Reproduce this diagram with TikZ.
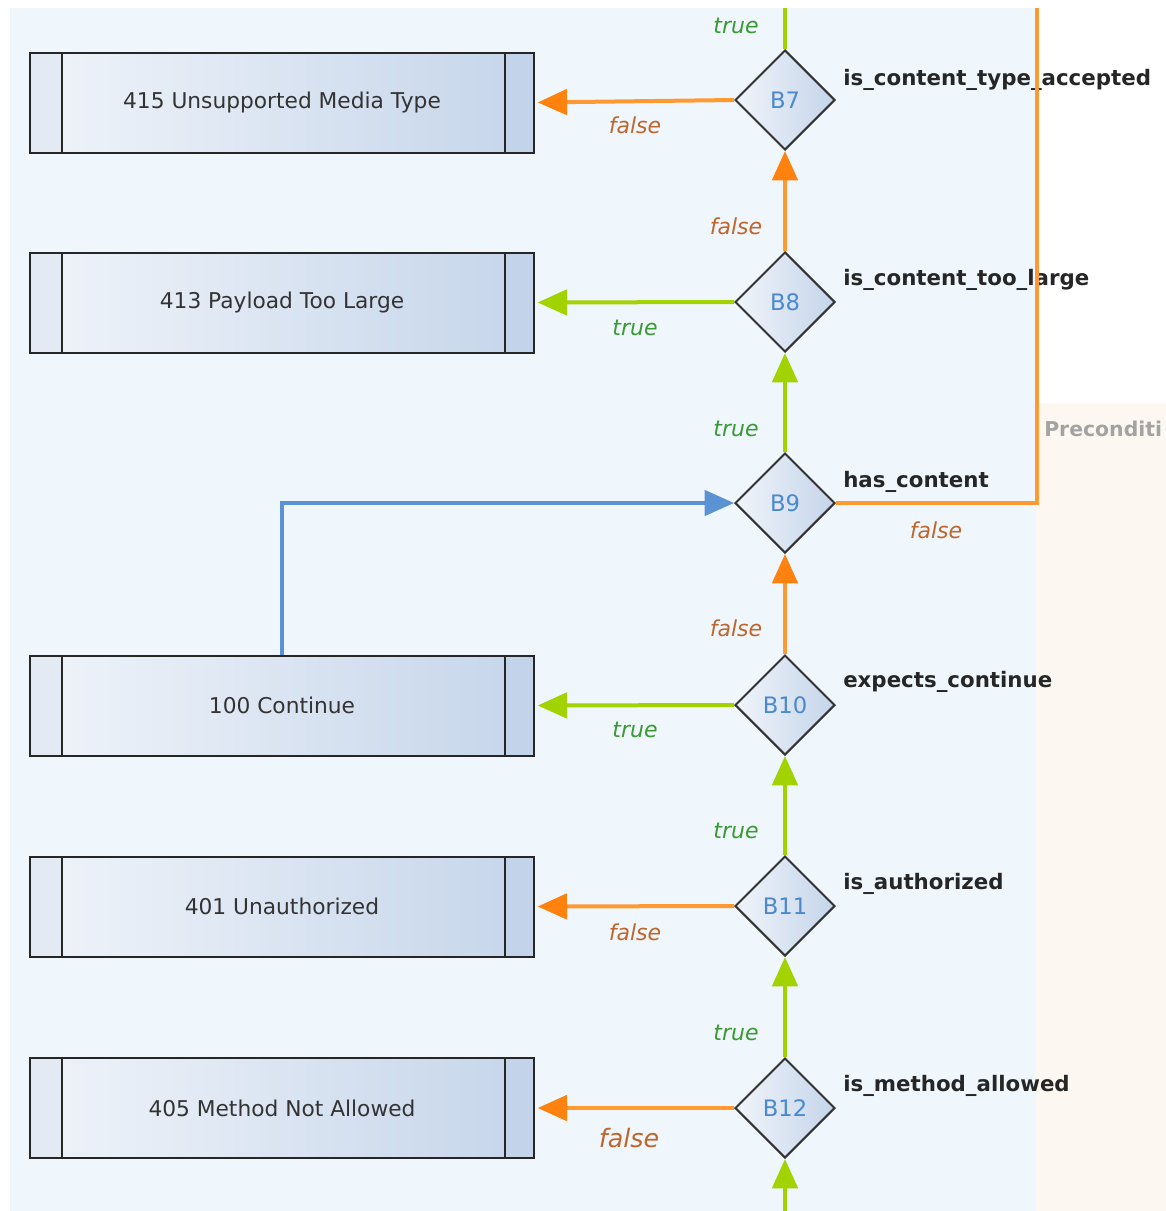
\documentclass[tikz,border=0pt]{standalone}
\usepackage{fontspec}
\setmainfont{DejaVu Sans}
\usetikzlibrary{arrows.meta,shapes.geometric,calc}
\definecolor{bgblue}{HTML}{EFF7FD}
\definecolor{bgbeige}{HTML}{FCF8F1}
\definecolor{boxL}{HTML}{F0F4FA}
\definecolor{boxR}{HTML}{C5D5EA}
\definecolor{stripL}{HTML}{E3EAF4}
\definecolor{stripR}{HTML}{C3D3E9}
\definecolor{orangeln}{HTML}{FF9A33}
\definecolor{orangetip}{HTML}{FF820F}
\definecolor{greenln}{HTML}{A2D200}
\definecolor{blueln}{HTML}{5A92D4}
\definecolor{truetxt}{HTML}{3A9A33}
\definecolor{falsetxt}{HTML}{C0652B}
\definecolor{idtxt}{HTML}{4A88CF}
\definecolor{pretxt}{HTML}{A3A3A3}
\begin{document}
\begin{tikzpicture}[x=0.75pt,y=-0.75pt,
  resp/.style={draw=black!85, line width=1.5pt, left color=boxL, right color=boxR,
    minimum width=378pt, minimum height=75pt, inner sep=0pt,
    font=\fontsize{16.3}{18}\selectfont, text=black!80,
    path picture={
      \fill[stripR] ($(path picture bounding box.north east)+(-29,0)$) rectangle (path picture bounding box.south east);
      \fill[stripL] (path picture bounding box.north west) rectangle ($(path picture bounding box.south west)+(32,0)$);
      \draw[line width=1.5pt,black!85] ($(path picture bounding box.north east)+(-29,0)$) -- ($(path picture bounding box.south east)+(-29,0)$);
      \draw[line width=1.5pt,black!85] ($(path picture bounding box.north west)+(32,0)$) -- ($(path picture bounding box.south west)+(32,0)$);
    }},
  decis/.style={diamond, draw=black!80, line width=1.5pt, left color=boxL, right color=boxR,
    minimum width=75pt, minimum height=75pt, inner sep=0pt, aspect=1,
    font=\fontsize{17}{18}\selectfont, text=idtxt},
  cond/.style={anchor=base west, font=\bfseries\fontsize{16}{18}\selectfont, text=black!85, inner sep=0pt},
  tlab/.style={font=\itshape\fontsize{16.5}{18}\selectfont, text=truetxt, inner sep=0pt},
  flab/.style={font=\itshape\fontsize{16.5}{18}\selectfont, text=falsetxt, inner sep=0pt},
  truearr/.style={draw=greenln, line width=3pt, -{Triangle[length=22pt,width=19pt]}},
  falsearr/.style={draw=orangeln, line width=3pt, -{Triangle[length=22pt,width=19pt,color=orangetip]}},
  trueln/.style={draw=greenln, line width=3pt},
  falseln/.style={draw=orangeln, line width=3pt},
  bluearr/.style={draw=blueln, line width=2.6pt, -{Triangle[length=22pt,width=19pt]}}
]
\useasboundingbox (0,0) rectangle (1166,1211);
\fill[white] (0,0) rectangle (1166,1211);
\fill[bgblue] (10,8) rectangle (1036,1211);
\fill[bgbeige] (1036,403) rectangle (1166,1211);

\node[anchor=base west, font=\bfseries\fontsize{15.3}{18}\selectfont, text=pretxt, inner sep=0pt] (pre) at (1044,436) {Preconditi};

% response boxes
\node[resp] (r415) at (282,102.5) {415 Unsupported Media Type};
\node[resp] (r413) at (282,302.5) {413 Payload Too Large};
\node[resp] (r100) at (282,705.5) {100 Continue};
\node[resp] (r401) at (282,906.5) {401 Unauthorized};
\node[resp] (r405) at (282,1108) {405 Method Not Allowed};

% decisions
\node[decis] (B7) at (785,100) {B7};
\node[decis] (B8) at (785,302) {B8};
\node[decis] (B9) at (785,503) {B9};
\node[decis] (B10) at (785,705) {B10};
\node[decis] (B11) at (785,906) {B11};
\node[decis] (B12) at (785,1108) {B12};

\node[cond] (c7) at (843,85) {is\_content\_type\_accepted};
\node[cond] (c8) at (843,285) {is\_content\_too\_large};
\node[cond] (c9) at (843,487) {has\_content};
\node[cond] (c10) at (843,687) {expects\_continue};
\node[cond] (c11) at (843,889) {is\_authorized};
\node[cond] (c12) at (843,1091) {is\_method\_allowed};

% free ends
\coordinate (topin) at (785,8);
\coordinate (botin) at (785,1211);
\coordinate (orgtop) at (1037,8);

% vertical connectors
\draw[trueln] (B7.north) -- (topin);
\draw[falsearr] (B8.north) -- (B7.south);
\draw[truearr] (B9.north) -- (B8.south);
\draw[falsearr] (B10.north) -- (B9.south);
\draw[truearr] (B11.north) -- (B10.south);
\draw[truearr] (B12.north) -- (B11.south);
\draw[truearr] (botin) -- (B12.south);

% horizontal connectors
\draw[falsearr, shorten >=2pt] (B7.west) -- (r415.east);
\draw[truearr, shorten >=2pt] (B8.west) -- (r413.east);
\draw[truearr, shorten >=2pt] (B10.west) -- (r100.east);
\draw[falsearr, shorten >=2pt] (B11.west) -- (r401.east);
\draw[falsearr, shorten >=2pt] (B12.west) -- (r405.east);
\draw[falseln] (B9.east) -| (orgtop);
\draw[bluearr] (r100.north) |- (B9.west);

% labels
\node[tlab] (l1) at (736,26) {true};
\node[flab] (l2) at (635,125) {false};
\node[flab] (l3) at (736,226) {false};
\node[tlab] (l4) at (635,328) {true};
\node[tlab] (l5) at (736,429) {true};
\node[flab] (l6) at (936,530) {false};
\node[flab] (l7) at (736,628) {false};
\node[tlab] (l8) at (635,730) {true};
\node[tlab] (l9) at (736,831) {true};
\node[flab] (l10) at (635,932) {false};
\node[tlab] (l11) at (736,1033) {true};
\node[flab, font=\itshape\fontsize{19}{21}\selectfont] (l12) at (629,1138) {false};
\end{tikzpicture}
\end{document}
